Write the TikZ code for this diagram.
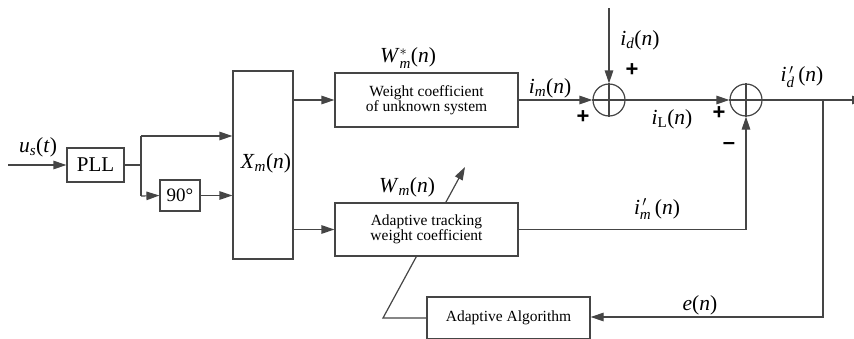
\documentclass[tikz,border=0pt]{standalone}
\usepackage{amsmath}
\usepackage{fontspec}
\setmainfont{Liberation Serif}
\newfontfamily\signfont{Liberation Sans}
\usetikzlibrary{arrows.meta,backgrounds}
\definecolor{ln}{HTML}{454545}
\newcommand{\lbl}[3]{\textit{#1}$_{\textit{#2}}$(\textit{#3})}
\begin{document}
\begin{tikzpicture}[x=1pt,y=-1pt,
  line width=1.3pt,
  wire/.style={draw=ln,line width=1.2pt},
  arr/.style={wire,-{Triangle[length=13pt,width=8.5pt]}},
  blk/.style={draw=ln,line width=1.2pt,fill=white,inner sep=0pt,align=center,font=\fontsize{15.5}{17}\selectfont},
  sum/.style={draw=ln,line width=1.2pt,circle,minimum size=32pt,inner sep=0pt,fill=white},
  lab/.style={inner sep=0pt,font=\fontsize{21.5}{23}\selectfont},
  sgn/.style={inner sep=0pt,font=\signfont\bfseries\fontsize{22}{23}\selectfont}]
\useasboundingbox (0,0) rectangle (854,338);
\clip (0,0) rectangle (854,338);
% blocks
\node[blk,minimum width=57pt,minimum height=34pt,font=\fontsize{21}{22}\selectfont] (pll) at (95.5,165) {PLL};
\node[blk,minimum width=40pt,minimum height=31pt,font=\fontsize{19}{21}\selectfont] (ninety) at (180,195.5) {90°};
\node[blk,minimum width=60pt,minimum height=188pt] (xm) at (263,165) {};
\node[lab] at (266,163) {\lbl{X}{m}{n}};
\node[blk,minimum width=183pt,minimum height=54pt] (wc) at (426.5,100) {Weight coefficient\\[-2pt]of unknown system};
\node[blk,minimum width=183pt,minimum height=53pt] (at) at (426.5,229.5) {Adaptive tracking\\[-2pt]weight coefficient};
\node[blk,minimum width=163pt,minimum height=42pt] (aa) at (508.5,318) {Adaptive Algorithm};
\node[sum] (s1) at (609,100) {};
\node[sum] (s2) at (746,100) {};
\draw[wire] (s1.north) -- (s1.south) (s1.west) -- (s1.east);
\draw[wire] (s2.north) -- (s2.south) (s2.west) -- (s2.east);
% coordinates
\coordinate (in) at (8,165);
\coordinate (br) at (141,165);
\coordinate (brt) at (141,136);
\coordinate (brb) at (141,196);
\coordinate (idtop) at (609,8);
\coordinate (outend) at (865,100);
\coordinate (tap) at (823,100);
\coordinate (tapb) at (823,317);
\coordinate (imc) at (746,229.5);
\coordinate (fbk) at (383,318);
\coordinate (fbtip) at (465,167);
% connectors
\draw[arr] (in) -- (pll.west);
\draw[wire] (pll.east) -- (br);
\draw[wire] (brt) -- (brb);
\draw[arr] (brt) -- (brt -| xm.west);
\draw[arr] (brb) -- (ninety.west);
\draw[arr] (ninety.east) -- (ninety.east -| xm.west);
\draw[arr] (xm.east |- wc.west) -- (wc.west);
\draw[arr] (xm.east |- at.west) -- (at.west);
\draw[arr] (wc.east) -- (s1.west);
\draw[arr] (idtop) -- (s1.north);
\draw[arr] (s1.east) -- (s2.west);
\draw[arr] (s2.east) -- (outend);
\draw[arr] (tap) -- (tapb) -- (aa.east |- tapb);
\draw[arr] (at.east) -- (imc) -- (s2.south);
\begin{scope}[on background layer]
\draw[arr] (aa.west |- fbk) -- (fbk) -- (fbtip);
\end{scope}
% labels
\node[lab] at (38,147) {\lbl{u}{s}{t}};
\node[lab] at (408,58) {\textit{W}$^{*}_{\textit{m}}$(\textit{n})};
\node[lab] at (407,187) {\lbl{W}{m}{n}};
\node[lab] at (550,88) {\lbl{i}{m}{n}};
\node[lab] at (640,40) {\lbl{i}{d}{n}};
\node[lab] at (672,119) {\textit{i}$_{\textrm{L}}$(\textit{n})};
\node[lab] at (802,77) {\textit{i}$^{\,\prime}_{\textit{d}}$\,(\textit{n})};
\node[lab] at (657,209) {\textit{i}$^{\,\prime}_{\textit{m}}$\,(\textit{n})};
\node[lab] at (700,305) {\textit{e}(\textit{n})};
\node[sgn] at (632,70) {+};
\node[sgn] at (583,117) {+};
\node[sgn] at (719,113) {+};
\node[sgn] at (729,146) {–};
\end{tikzpicture}
\end{document}
